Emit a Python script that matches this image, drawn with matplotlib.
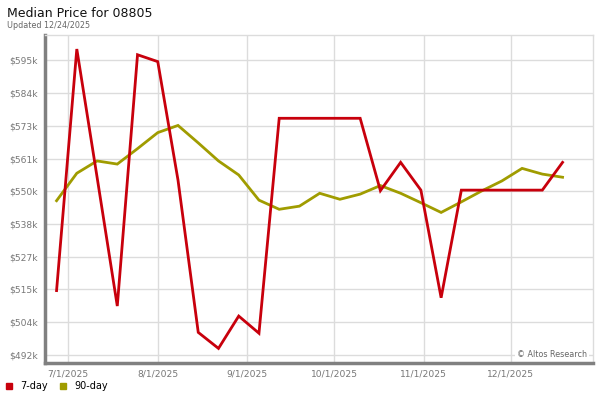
import matplotlib
matplotlib.use("Agg")
import matplotlib.pyplot as plt
import matplotlib.dates as mdates
from matplotlib.lines import Line2D
import numpy as np
import datetime as dt

# ---- data ----
start_date = dt.date(2025, 6, 27)
n_weeks = 26
dates = [start_date + dt.timedelta(days=7 * i) for i in range(n_weeks)]

seven_day = [514.9, 599.3, 554.6, 509.5, 597.3, 594.9, 553.5, 500.3, 494.7, 506.0,
             500.0, 575.1, 575.1, 575.1, 575.1, 575.1, 549.8, 559.7, 550.0, 512.4,
             550.0, 550.0, 550.0, 550.0, 550.0, 559.7]
ninety_day = [546.3, 555.9, 560.2, 559.1, 564.5, 570.1, 572.6, 566.5, 560.2, 555.3,
              546.5, 543.3, 544.4, 548.9, 546.8, 548.6, 551.6, 548.9, 545.6, 542.2,
              545.9, 549.7, 553.2, 557.6, 555.6, 554.5]

y_tick_values = [492.4, 503.8, 515.3, 526.7, 538.2, 549.6, 561.0, 572.5, 583.9, 595.4]
y_tick_labels = ["$492k", "$504k", "$515k", "$527k", "$538k", "$550k",
                 "$561k", "$573k", "$584k", "$595k"]
x_tick_dates = [dt.date(2025, m, 1) for m in (7, 8, 9, 10, 11, 12)]
x_tick_labels = ["7/1/2025", "8/1/2025", "9/1/2025", "10/1/2025", "11/1/2025", "12/1/2025"]

series_names = ["7-day", "90-day"]
red = "#c8000c"
olive = "#a09c00"

# ---- figure ----
fig = plt.figure(figsize=(6, 4), dpi=100)
ax = fig.add_axes([0.075, 0.0925, 0.914, 0.82])

ax.plot(dates, ninety_day, color=olive, lw=2.0, solid_joinstyle="miter", zorder=3)
ax.plot(dates, seven_day, color=red, lw=2.0, solid_joinstyle="miter", zorder=4)

ax.set_ylim(489.6, 604.2)
ax.set_xlim(dt.date(2025, 6, 23), dt.datetime(2025, 12, 29, 16))

ax.set_yticks(y_tick_values)
ax.set_yticklabels(y_tick_labels)
ax.set_xticks(x_tick_dates)
ax.set_xticklabels(x_tick_labels)

ax.tick_params(axis="both", length=0, labelsize=6.6, colors="#777777")
ax.tick_params(axis="y", pad=5)
ax.tick_params(axis="x", pad=5)

ax.grid(True, color="#dcdcdc", lw=1.0, zorder=0)
ax.set_axisbelow(True)

for s in ("top", "right"):
    ax.spines[s].set_color("#dcdcdc")
    ax.spines[s].set_linewidth(1.0)
for s in ("left", "bottom"):
    ax.spines[s].set_color("#808080")
    ax.spines[s].set_linewidth(2.5)

ax.text(0.988, 0.025, "\u00a9 Altos Research", transform=ax.transAxes,
        ha="right", va="center", fontsize=5.8, color="#666666",
        bbox=dict(facecolor="white", edgecolor="none", pad=1.5), zorder=5)

fig.text(0.011, 0.967, "Median Price for 08805", fontsize=9, color="#111111",
         ha="left", va="center")
fig.text(0.011, 0.937, "Updated 12/24/2025", fontsize=5.8, color="#666666",
         ha="left", va="center")

handles = [Line2D([], [], marker="s", ls="none", color=red, markersize=4.5),
           Line2D([], [], marker="s", ls="none", color=olive, markersize=4.5)]
fig.legend(handles, series_names, loc="center left", bbox_to_anchor=(0.0, 0.035),
           ncol=2, frameon=False, fontsize=7, handlelength=1.0, handletextpad=0.7,
           columnspacing=1.0, borderaxespad=0.0)

fig.savefig("out.png", dpi=100)
